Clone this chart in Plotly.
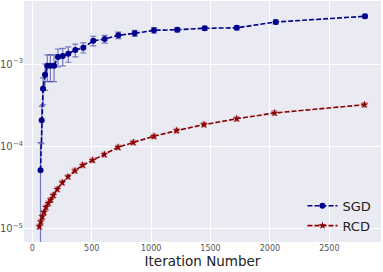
import plotly.graph_objects as go

sgd_iter = [69, 79, 90, 107, 126, 152, 183, 216, 256, 303, 362, 429, 513, 609, 724, 862, 1024, 1220, 1451, 1721, 2049, 2800]
sgd_val = [5.15e-5, 2.08e-4, 5.0e-4, 7.4e-4, 9.5e-4, 9.5e-4, 9.5e-4, 1.22e-3, 1.25e-3, 1.33e-3, 1.48e-3, 1.58e-3, 1.91e-3, 2.01e-3, 2.23e-3, 2.36e-3, 2.56e-3, 2.61e-3, 2.71e-3, 2.75e-3, 3.23e-3, 3.79e-3]
sgd_err = [6.0e-5, 1.0e-4, 1.8e-4, 2.6e-4, 3.4e-4, 3.4e-4, 3.4e-4, 3.0e-4, 3.0e-4, 2.8e-4, 2.6e-4, 2.2e-4, 2.5e-4, 2.2e-4, 2.0e-4, 2.0e-4, 2.0e-4, 1.6e-4, 1.6e-4, 1.6e-4, 1.8e-4, 2.0e-4]

rcd_iter = [59, 71, 84, 98, 115, 135, 155, 177, 210, 252, 300, 359, 424, 508, 606, 722, 850, 1024, 1215, 1445, 1720, 2039, 2796]
rcd_val = [1.07e-5, 1.22e-5, 1.41e-5, 1.59e-5, 1.83e-5, 2.05e-5, 2.25e-5, 2.56e-5, 3.03e-5, 3.64e-5, 4.30e-5, 5.09e-5, 5.93e-5, 6.82e-5, 8.0e-5, 9.78e-5, 1.12e-4, 1.33e-4, 1.56e-4, 1.84e-4, 2.17e-4, 2.55e-4, 3.21e-4]
rcd_err = [v * 0.06 for v in rcd_val]

x_ticks = [0, 500, 1000, 1500, 2000, 2500]

fig = go.Figure()
fig.add_trace(go.Scatter(
    x=sgd_iter, y=sgd_val, name="SGD", mode="lines+markers",
    line=dict(color="#00008B", width=1.6, dash="5px,2px"),
    marker=dict(symbol="circle", size=6, color="#00008B"),
    error_y=dict(type="data", array=sgd_err, visible=True,
                 color="rgba(40,40,160,0.6)", thickness=1.2, width=3),
))
fig.add_trace(go.Scatter(
    x=rcd_iter, y=rcd_val, name="RCD", mode="lines+markers",
    line=dict(color="#8B0000", width=1.6, dash="5px,2px"),
    marker=dict(symbol="star", size=6, color="#8B0000"),
    error_y=dict(type="data", array=rcd_err, visible=True,
                 color="rgba(160,40,40,0.45)", thickness=1.5, width=3),
))

fig.update_layout(
    width=383, height=272,
    margin=dict(l=24, r=2, t=1, b=30, autoexpand=False),
    paper_bgcolor="white", plot_bgcolor="#EAEAF2",
    font=dict(family="DejaVu Sans", color="#333333"),
    showlegend=True,
    legend=dict(x=0.78, y=0.005, xanchor="left", yanchor="bottom",
                bgcolor="rgba(0,0,0,0)", font=dict(size=13, color="#222222"),
                itemwidth=30, tracegroupgap=0),
)
fig.update_xaxes(
    range=[-70, 2935], tickvals=x_ticks, ticktext=[str(t) for t in x_ticks],
    showgrid=True, gridcolor="white", gridwidth=1, zeroline=False,
    tickfont=dict(size=8, color="#555555"), ticks="", showline=False,
    automargin=False,
    title=dict(text="Iteration Number", font=dict(size=13.5, color="#222222"), standoff=3),
)
fig.update_yaxes(
    type="log", range=[-5.158, -2.236], dtick=1, exponentformat="power",
    showgrid=True, gridcolor="white", gridwidth=1, zeroline=False,
    tickfont=dict(size=8, color="#555555"), ticks="", showline=False,
    automargin=False,
    minor=dict(showgrid=False),
)
fig.write_html("out.html", config={"displayModeBar": False},
               post_script="document.body.style.margin='0';document.body.style.overflow='hidden';")
